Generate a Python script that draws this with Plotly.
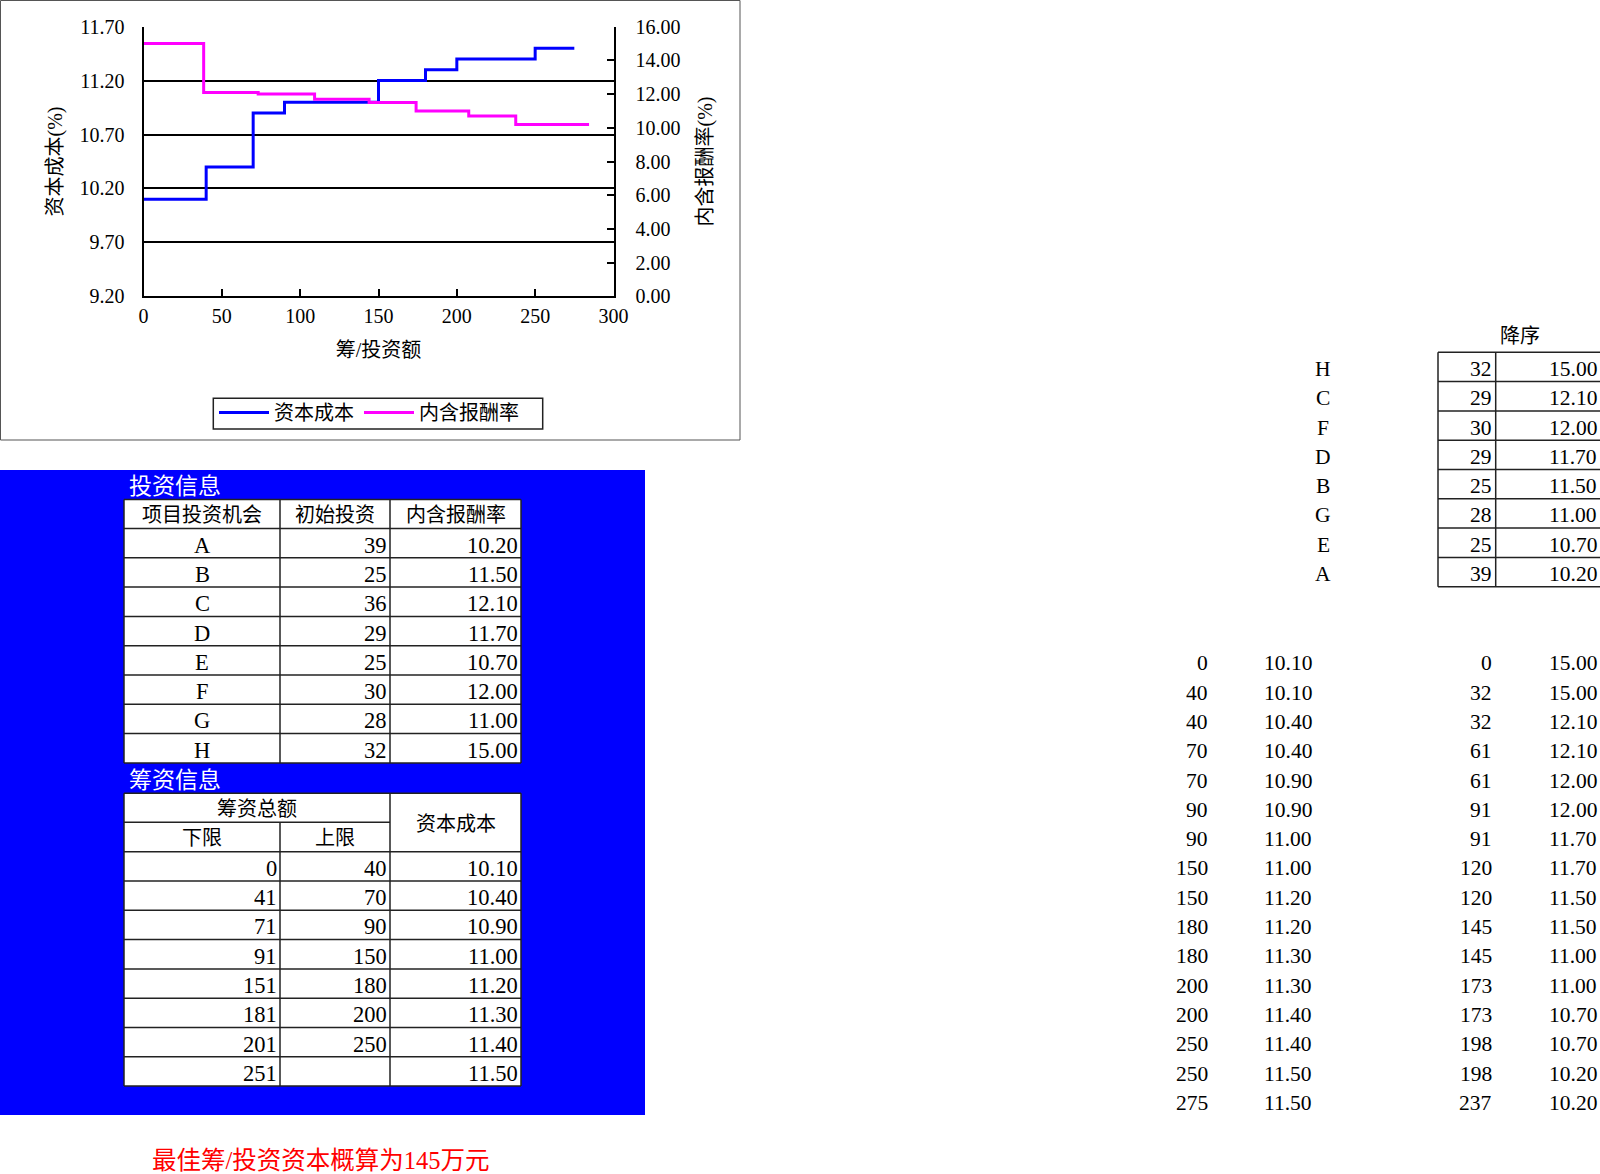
import plotly.graph_objects as go

W, H = 1600, 1174
FONT = "Liberation Serif, Noto Sans CJK SC, serif"

# ---- chart data (step series) ----
cost_x = [0, 40, 40, 70, 70, 90, 90, 150, 150, 180, 180, 200, 200, 250, 250, 275]
cost_y = [10.10, 10.10, 10.40, 10.40, 10.90, 10.90, 11.00, 11.00, 11.20, 11.20,
          11.30, 11.30, 11.40, 11.40, 11.50, 11.50]
irr_x = [0, 32, 32, 61, 61, 91, 91, 120, 120, 145, 145, 173, 173, 198, 198, 237]
irr_y = [15.00, 15.00, 12.10, 12.10, 12.00, 12.00, 11.70, 11.70, 11.50, 11.50,
         11.00, 11.00, 10.70, 10.70, 10.20, 10.20]

# ---- investment info ----
projects = ["A", "B", "C", "D", "E", "F", "G", "H"]
invest = [39, 25, 36, 29, 25, 30, 28, 32]
irr = [10.20, 11.50, 12.10, 11.70, 10.70, 12.00, 11.00, 15.00]

# ---- financing info ----
fin_lower = [0, 41, 71, 91, 151, 181, 201, 251]
fin_upper = [40, 70, 90, 150, 180, 200, 250, None]
fin_cost = [10.10, 10.40, 10.90, 11.00, 11.20, 11.30, 11.40, 11.50]

# ---- sorted (descending) table ----
sorted_names = ["H", "C", "F", "D", "B", "G", "E", "A"]
sorted_invest = [32, 29, 30, 29, 25, 28, 25, 39]
sorted_irr = [15.00, 12.10, 12.00, 11.70, 11.50, 11.00, 10.70, 10.20]

best_text = "最佳筹/投资资本概算为145万元"

# ---------------------------------------------------------------
def px(x):
    return x / W


def py(y):
    return 1 - y / H


shapes = []
annotations = []
NUM_T = 22.5   # numbers inside the blue-area tables
NUM_R = 21.5   # numbers on the right side


def text(x, y, s, size=20, color="black", xanchor="center"):
    annotations.append(dict(x=px(x), y=py(y), xref="paper", yref="paper", text=s,
                            showarrow=False, xanchor=xanchor, yanchor="middle",
                            font=dict(size=size, color=color, family=FONT)))


def line(x0, y0, x1, y1, color="#222222", width=1.5):
    shapes.append(dict(type="line", xref="paper", yref="paper", x0=px(x0), y0=py(y0),
                       x1=px(x1), y1=py(y1), line=dict(color=color, width=width)))


def rect(x0, y0, x1, y1, fill=None, color=None, width=0):
    d = dict(type="rect", xref="paper", yref="paper", x0=px(x0), y0=py(y0),
             x1=px(x1), y1=py(y1), layer="below",
             line=dict(color=color if color else "rgba(0,0,0,0)", width=width))
    if fill:
        d["fillcolor"] = fill
    shapes.append(d)


# chart frame
rect(0.5, 0.5, 740, 440, color="#555555", width=1)
# legend frame
rect(213.3, 398.3, 542.7, 429, fill="white", color="#222222", width=1.5)

# blue background block
rect(0, 470, 645, 1115, fill="#0000FF")

RH = 29.3

# ---- table 1 ----
t1_cols = [124, 280, 390, 521]
t1_top = 499.5
t1_hbot = 528.5
t1_bot = t1_hbot + RH * len(projects)
rect(t1_cols[0], t1_top, t1_cols[-1], t1_bot, fill="white")
line(t1_cols[0], t1_top, t1_cols[-1], t1_top)
for k in range(len(projects) + 1):
    yy = t1_hbot + RH * k
    line(t1_cols[0], yy, t1_cols[-1], yy)
for xx in t1_cols:
    line(xx, t1_top, xx, t1_bot)
text(127, 487, "投资信息", size=23, color="white", xanchor="left")
hdr_y = (t1_top + t1_hbot) / 2 + 1
text((t1_cols[0] + t1_cols[1]) / 2, hdr_y, "项目投资机会")
text((t1_cols[1] + t1_cols[2]) / 2, hdr_y, "初始投资")
text((t1_cols[2] + t1_cols[3]) / 2, hdr_y, "内含报酬率")
for k, (p, v, r) in enumerate(zip(projects, invest, irr)):
    yc = t1_hbot + RH * k + RH / 2 + 2
    text((t1_cols[0] + t1_cols[1]) / 2, yc, p, size=NUM_T)
    text(t1_cols[2] - 1, yc, f"{v}", size=NUM_T, xanchor="right")
    text(t1_cols[3] - 1, yc, f"{r:.2f}", size=NUM_T, xanchor="right")

# ---- table 2 ----
t2_top = 793.3
t2_mid = 822.3
t2_hbot = 851.7
t2_bot = t2_hbot + RH * len(fin_cost)
rect(t1_cols[0], t2_top, t1_cols[-1], t2_bot, fill="white")
line(t1_cols[0], t2_top, t1_cols[-1], t2_top)
line(t1_cols[0], t2_mid, t1_cols[2], t2_mid)
for k in range(len(fin_cost) + 1):
    yy = t2_hbot + RH * k
    line(t1_cols[0], yy, t1_cols[-1], yy)
line(t1_cols[0], t2_top, t1_cols[0], t2_bot)
line(t1_cols[1], t2_mid, t1_cols[1], t2_bot)
line(t1_cols[2], t2_top, t1_cols[2], t2_bot)
line(t1_cols[3], t2_top, t1_cols[3], t2_bot)
text(127, 780.5, "筹资信息", size=23, color="white", xanchor="left")
text((t1_cols[0] + t1_cols[2]) / 2, (t2_top + t2_mid) / 2 + 1, "筹资总额")
text((t1_cols[0] + t1_cols[1]) / 2, (t2_mid + t2_hbot) / 2 + 1, "下限")
text((t1_cols[1] + t1_cols[2]) / 2, (t2_mid + t2_hbot) / 2 + 1, "上限")
text((t1_cols[2] + t1_cols[3]) / 2, (t2_top + t2_hbot) / 2 + 1, "资本成本")
for k, (lo, up, c) in enumerate(zip(fin_lower, fin_upper, fin_cost)):
    yc = t2_hbot + RH * k + RH / 2 + 2
    text(t1_cols[1] - 1, yc, f"{lo}", size=NUM_T, xanchor="right")
    if up is not None:
        text(t1_cols[2] - 1, yc, f"{up}", size=NUM_T, xanchor="right")
    text(t1_cols[3] - 1, yc, f"{c:.2f}", size=NUM_T, xanchor="right")

# ---- red conclusion ----
text(150, 1160, best_text, size=24.5, color="#FF0000", xanchor="left")

# ---- sorted table (right) ----
s_top = 352.3
s_left, s_mid = 1438, 1495.7
text(1520, 336, "降序")
for k in range(len(sorted_names) + 1):
    yy = s_top + RH * k
    line(s_left, yy, 1600, yy)
line(s_left, s_top, s_left, s_top + RH * len(sorted_names))
line(s_mid, s_top, s_mid, s_top + RH * len(sorted_names))
for k, (n, v, r) in enumerate(zip(sorted_names, sorted_invest, sorted_irr)):
    yc = s_top + RH * k + RH / 2 + 2
    text(1323, yc, n, size=NUM_R)
    text(1494, yc, f"{v}", size=NUM_R, xanchor="right")
    text(1599, yc, f"{r:.2f}", size=NUM_R, xanchor="right")

# ---- step-point lists (right bottom) ----
for k in range(len(cost_x)):
    yc = 663.3 + RH * k
    text(1210, yc, f"{cost_x[k]}", size=NUM_R, xanchor="right")
    text(1314, yc, f"{cost_y[k]:.2f}", size=NUM_R, xanchor="right")
    text(1494, yc, f"{irr_x[k]}", size=NUM_R, xanchor="right")
    text(1599, yc, f"{irr_y[k]:.2f}", size=NUM_R, xanchor="right")

# ---------------------------------------------------------------
fig = go.Figure()
fig.add_trace(go.Scatter(x=cost_x, y=cost_y, mode="lines", name="资本成本",
                         line=dict(color="#0000FF", width=3), xaxis="x", yaxis="y"))
fig.add_trace(go.Scatter(x=irr_x, y=irr_y, mode="lines", name="内含报酬率",
                         line=dict(color="#FF00FF", width=3), xaxis="x2", yaxis="y2"))

x_dom = [px(143.5), px(613.5)]
y_dom = [py(296.3), py(26.7)]
tickfont = dict(size=20, color="black", family=FONT)
titlefont = dict(size=20, color="black", family=FONT)

fig.update_layout(
    width=W, height=H,
    margin=dict(l=0, r=0, t=0, b=0, pad=0, autoexpand=False),
    paper_bgcolor="white", plot_bgcolor="white",
    shapes=shapes, annotations=annotations,
    showlegend=True,
    legend=dict(orientation="h", x=px(214), y=py(393), xanchor="left", yanchor="top",
                borderwidth=0, bgcolor="rgba(0,0,0,0)", itemwidth=50,
                font=dict(size=20, color="black", family=FONT)),
    xaxis=dict(domain=x_dom, range=[0, 300], tick0=0, dtick=50, showgrid=False,
               zeroline=False, showline=True, linecolor="black", linewidth=2,
               ticks="inside", ticklen=7, tickwidth=2, tickcolor="black",
               tickfont=tickfont, ticklabelstandoff=1, anchor="y", automargin=False,
               title=dict(text="筹/投资额", font=titlefont, standoff=17)),
    yaxis=dict(domain=y_dom, range=[9.2, 11.7], tick0=9.2, dtick=0.5, tickformat=".2f",
               showgrid=True, gridcolor="black", gridwidth=1.5, zeroline=False,
               showline=True, linecolor="black", linewidth=2, ticks="",
               tickfont=tickfont, ticklabelstandoff=13, anchor="x", automargin=False,
               title=dict(text="资本成本(%)", font=titlefont, standoff=12)),
    xaxis2=dict(domain=x_dom, range=[0, 250], overlaying="x", visible=False,
                anchor="y2", automargin=False),
    yaxis2=dict(domain=y_dom, range=[0, 16], tick0=0, dtick=2, tickformat=".2f",
                overlaying="y", side="right", anchor="x2", showgrid=False, zeroline=False,
                showline=True, linecolor="black", linewidth=2, automargin=False,
                ticks="inside", ticklen=7, tickwidth=2, tickcolor="black",
                tickfont=tickfont, ticklabelstandoff=16,
                title=dict(text="内含报酬率(%)", font=titlefont, standoff=18)),
)

fig.write_html("out.html",
               config={"displayModeBar": False},
               post_script="document.body.style.margin='0';"
                           "document.body.style.overflow='hidden';")
